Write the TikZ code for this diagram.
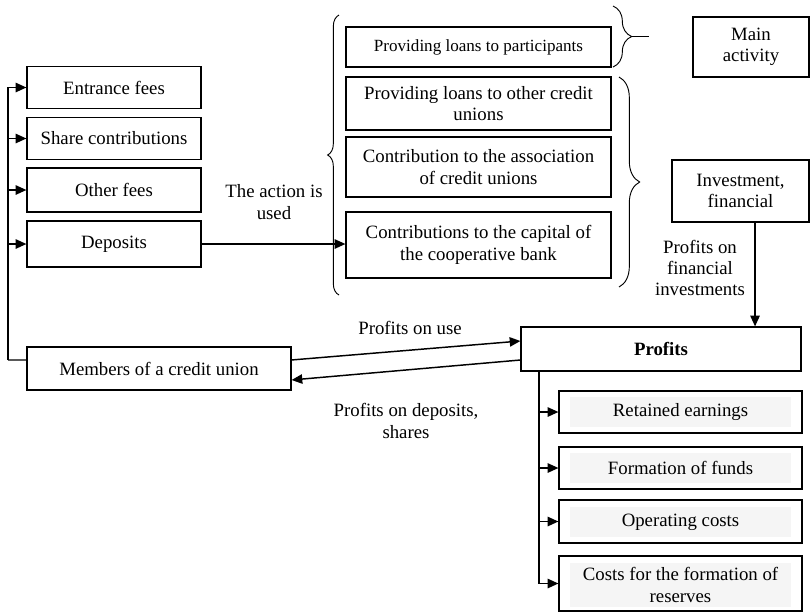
\documentclass[tikz,border=0pt]{standalone}
\usepackage{fontspec}
\setmainfont{Liberation Serif}
\usetikzlibrary{arrows.meta,decorations.pathreplacing}

\newcommand{\boxfont}{\fontsize{14.1pt}{16pt}\selectfont}
\newcommand{\smallboxfont}{\fontsize{12.8pt}{15pt}\selectfont}

\tikzset{every picture/.style={line width=0.75pt}}
\tikzset{
  box/.style={draw, line width=0.9pt, inner sep=0pt, align=center, font=\boxfont},
  leftbox/.style={box, minimum width=130.5pt},
  usebox/.style={box, minimum width=198.75pt},
  subbox/.style={box, minimum width=182.25pt},
  subfill/.style={fill=black!4, inner sep=0pt, minimum width=165.75pt, align=center, font=\boxfont},
  lbl/.style={align=center, inner sep=0pt, font=\boxfont},
  arr/.style={-{Triangle[length=8pt,width=7pt]}, line width=1.1pt},
  brc/.style={line width=0.7pt, decorate}
}

\begin{document}
\begin{tikzpicture}[x=0.75pt,y=0.75pt,yscale=-1,xscale=1]
\useasboundingbox (0,0) rectangle (810,612);

%Sources of funds
\node[leftbox, minimum height=31pt] (entr) at (114,87.5) {Entrance fees};
\node[leftbox, minimum height=32pt] (share) at (114,138.5) {Share contributions};
\node[leftbox, minimum height=33pt] (other) at (114,190) {Other fees};
\node[leftbox, minimum height=34.5pt] (dep) at (114,244) {Deposits};
\node[box, minimum width=198pt, minimum height=32.25pt] (mem) at (159,368.5) {Members of a credit union};

%Uses of funds
\node[usebox, minimum height=30pt, font=\smallboxfont] (loanpart) at (478.5,47) {Providing loans to participants};
\node[usebox, minimum height=39.75pt] (loancu) at (478.5,103.5) {Providing loans to other credit\\unions};
\node[usebox, minimum height=45pt] (assoc) at (478.5,167) {Contribution to the association\\of credit unions};
\node[usebox, minimum height=49.5pt] (cap) at (478.5,245) {Contributions to the capital of\\the cooperative bank};

%Activity types
\node[box, minimum width=87pt, minimum height=45pt] (mainact) at (751,47) {Main\\activity};
\node[box, minimum width=102.75pt, minimum height=46.5pt] (inv) at (740.5,191) {Investment,\\financial};

%Profits and their use
\node[box, minimum width=210pt, minimum height=33pt, font=\boxfont\bfseries] (prof) at (661,349) {Profits};
\node[subbox, minimum height=31.5pt] (ret) at (680.5,412) {};
\node[subfill, minimum height=22.5pt] (rett) at (680.5,412) {Retained earnings};
\node[subbox, minimum height=31.5pt] (fund) at (680.5,468) {};
\node[subfill, minimum height=22.5pt] (fundt) at (680.5,468) {Formation of funds};
\node[subbox, minimum height=32.25pt] (opc) at (680.5,521.5) {};
\node[subfill, minimum height=22.5pt] (opct) at (680.5,522) {Operating costs};
\node[subbox, minimum height=41.25pt] (rsv) at (680.5,583.5) {};
\node[subfill, minimum height=33pt] (rsvt) at (680.5,585) {Costs for the formation of\\reserves};

% Text Node
\node[lbl] (actlbl) at (274,202) {The action is\\used};
% Text Node
\node[lbl] (uselbl) at (410,328) {Profits on use};
% Text Node
\node[lbl] (deplbl) at (406,421) {Profits on deposits,\\shares};
% Text Node
\node[lbl] (finlbl) at (700,268) {Profits on\\financial\\investments};

%Braces
\draw[brc, decoration={brace,amplitude=8.5pt}] (339,295) -- (339,15);
\draw[brc, decoration={brace,amplitude=14pt}] (613,6) -- (613,67);
\coordinate (tipmain) at (631.5,36.5);
\draw[line width=0.7pt] (tipmain) -- ++(17,0);
\draw[brc, decoration={brace,amplitude=15.5pt}] (619,77) -- (619,287);

%Left trunk
\coordinate (trunk) at (8,360);
\draw[line width=0.9pt] ([yshift=-6.4pt]mem.west) -- (trunk);
\draw[arr] (trunk) |- (entr.west);
\draw[arr] (trunk |- share.west) -- (share.west);
\draw[arr] (trunk |- other.west) -- (other.west);
\draw[arr] (trunk |- dep.west) -- (dep.west);

%Deposits to uses
\draw[arr] (dep.east) -- (dep.east -| cap.west);

%Investment to profits
\draw[arr] ([xshift=10.9pt]inv.south) -- ([xshift=10.9pt]inv.south |- prof.north);

%Members and profits
\draw[arr] ([yshift=-6.4pt]mem.east) -- ([yshift=-6pt]prof.west);
\draw[arr] ([yshift=8.25pt]prof.west) -- ([yshift=8.6pt]mem.east);

%Profits branch
\coordinate (branch) at (539,580);
\draw[arr] (branch |- prof.south) |- (rsv.west);
\draw[arr] (branch |- ret.west) -- (ret.west);
\draw[arr] (branch |- fund.west) -- (fund.west);
\draw[arr] (branch |- opc.west) -- (opc.west);

\end{tikzpicture}
\end{document}
